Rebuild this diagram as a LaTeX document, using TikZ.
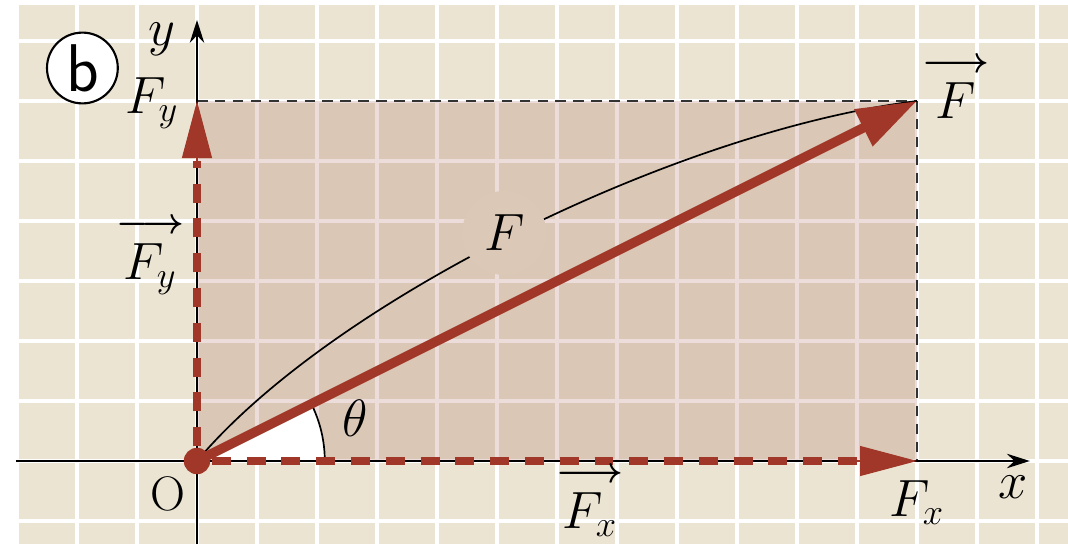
\documentclass[tikz,border=0pt]{standalone}
\usepackage{amsmath}
\usetikzlibrary{arrows.meta,calc}
\definecolor{bgbeige}{RGB}{235,228,211}
\definecolor{vecred}{RGB}{160,55,40}
\definecolor{shadetint}{RGB}{150,70,50}
\definecolor{shadecol}{RGB}{220,200,182}
\newcommand{\vecarrow}[1]{\overset{\boldsymbol{\longrightarrow}}{#1}}
\begin{document}
\begin{tikzpicture}[x=1cm,y=1cm,
  gridline/.style={white, line width=2pt},
  axis/.style={black, line width=1pt, -{Stealth[length=0.38cm,width=0.24cm]}},
  guide/.style={black!80, line width=1pt, dash pattern=on 5pt off 3.5pt},
  compdash/.style={vecred, line width=3.6pt, dash pattern=on 9pt off 7.5pt, dash phase=-7pt},
  comphead/.style={vecred, line width=0.5pt, -{Triangle[length=0.95cm,width=0.5cm]}},
  mainvec/.style={vecred, line width=4.5pt, -{Triangle[length=1.0cm,width=0.65cm]}},
  lbl/.style={font=\fontsize{23}{27}\selectfont, inner sep=1pt},
  thin/.style={black, line width=0.8pt}
]
\useasboundingbox (-3.2833,-1.3833) rectangle (14.5167,7.6833);
\fill[bgbeige] (-3.0,-1.3833) rectangle (14.5167,7.6);
\foreach \i in {-3,...,14} \draw[gridline] (\i,-1.3833) -- (\i,7.6);
\foreach \j in {-1,...,7} \draw[gridline] (-3.0,\j) -- (14.5167,\j);

\coordinate (O) at (0,0);
\coordinate (P) at (12,6);
\coordinate (Fxe) at (12,0);
\coordinate (Fye) at (0,6);
\coordinate (xs) at (-3.02,0);
\coordinate (xe) at (13.88,0);
\coordinate (ys) at (0,-1.3833);
\coordinate (ye) at (0,7.35);
\coordinate (Fxh) at (11,0);
\coordinate (Fyh) at (0,5);

% shaded rectangle
\fill[shadetint, fill opacity=0.18] (O) rectangle (P);
% guides
\draw[guide] (Fye) -- (P);
\draw[guide] (P) -- (Fxe);
% angle wedge
\fill[white] (O) -- (2.13,0) arc[start angle=0, end angle=26.565, radius=2.13] -- cycle;
\draw[thin] (2.13,0) arc[start angle=0, end angle=26.565, radius=2.13];
% magnitude curve
\draw[thin] (O) .. controls (2.25,2.68) and (8.03,5.51) .. (P);
\node[circle, fill=shadecol, minimum size=1.4cm, inner sep=0pt, font=\fontsize{23}{27}\selectfont] (Flab) at (5.12,3.8) {$F$};
% axes
\draw[axis] (xs) -- (xe);
\draw[axis] (ys) -- (ye);
% components
\draw[compdash] (O) -- (Fxh);
\draw[comphead] (Fxh) -- (Fxe);
\draw[compdash] (O) -- (Fyh);
\draw[comphead] (Fyh) -- (Fye);
% main vector
\draw[mainvec] (O) -- (P);
\fill[vecred] (O) circle (0.22);
% labels
\node[lbl] (ylab) at (-0.58,7.03) {$y$};
\node[lbl] (Fylab) at (-0.75,5.97) {$F_y$};
\node[lbl] (vFy) at (-0.78,3.45) {$\vecarrow{F_y}$};
\node[lbl] (Olab) at (-0.48,-0.55) {O};
\node[lbl] (vFx) at (6.55,-0.64) {$\vecarrow{F_x}$};
\node[lbl] (Fxlab) at (12.0,-0.70) {$F_x$};
\node[lbl] (xlab) at (13.6,-0.43) {$x$};
\node[lbl] (vF) at (12.65,6.25) {$\vecarrow{F}$};
\node[lbl] (th) at (2.63,0.72) {$\theta$};
\node[circle, draw, line width=1pt, fill=white, minimum size=1.18cm, inner sep=0pt, font=\sffamily\fontsize{32}{36}\selectfont] (blab) at (-1.91,6.55) {b};
\end{tikzpicture}
\end{document}
